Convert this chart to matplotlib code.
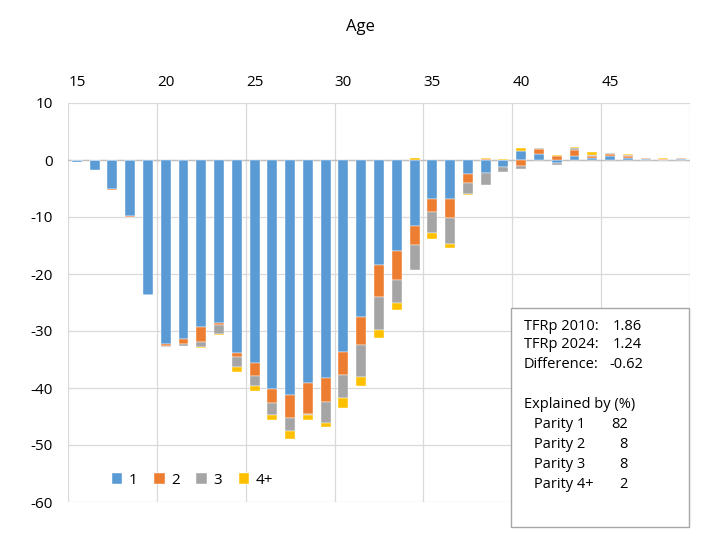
import matplotlib
matplotlib.use("Agg")
import matplotlib.pyplot as plt
from matplotlib.patches import Rectangle
import numpy as np

plt.rcParams['font.family'] = ['Open Sans', 'DejaVu Sans']

ages = list(range(15, 50))
parity1 = [-0.4, -1.8, -5.1, -9.9, -23.6, -32.3, -31.4, -29.3, -28.6, -33.9,
           -35.7, -40.1, -41.2, -39.2, -38.2, -33.6, -27.5, -18.4, -16.0, -11.5,
           -6.9, -6.9, -2.5, -2.3, -1.2, 1.6, 1.0, -0.5, 0.65, 0.4,
           0.75, 0.4, 0.15, 0.05, 0.1]
parity2 = [0.0, 0.0, -0.1, -0.1, -0.05, -0.3, -0.8, -2.6, -0.35, -0.7,
           -2.2, -2.6, -4.1, -5.3, -4.2, -4.1, -5.0, -5.7, -5.0, -3.4,
           -2.3, -3.2, -1.6, 0.15, 0.05, -1.1, 0.95, 0.75, 1.05, 0.25,
           0.3, 0.35, 0.15, 0.1, 0.2]
parity3 = [0.0, 0.0, 0.0, 0.0, -0.05, -0.2, -0.5, -0.9, -1.6, -1.8,
           -1.8, -2.0, -2.3, -0.2, -3.7, -4.0, -5.5, -5.8, -4.1, -4.4,
           -3.6, -4.6, -1.8, -2.0, -0.9, -0.4, 0.15, -0.3, 0.4, 0.2,
           0.1, 0.05, 0.05, 0.05, 0.05]
parity4 = [0.0, 0.0, 0.0, 0.0, 0.0, -0.05, 0.0, -0.2, -0.2, -0.8,
           -0.8, -0.9, -1.4, -0.9, -0.8, -1.8, -1.6, -1.3, -1.2, 0.3,
           -1.0, -0.8, -0.3, 0.25, 0.2, 0.55, 0.05, 0.1, 0.15, 0.5,
           0.1, 0.2, 0.05, 0.1, 0.05]

series = [("1", parity1, "#5B9BD5"), ("2", parity2, "#ED7D31"),
          ("3", parity3, "#A5A5A5"), ("4+", parity4, "#FFC000")]

yticks = [10, 0, -10, -20, -30, -40, -50, -60]
xlabels = [15, 20, 25, 30, 35, 40, 45]

W, H = 720, 547
fig = plt.figure(figsize=(W / 100, H / 100), dpi=100)
ax = fig.add_axes([68 / W, 1 - 502 / H, (690 - 68) / W, (502 - 103) / H])

x = np.array(ages, dtype=float)
pos_base = np.zeros(len(ages))
neg_base = np.zeros(len(ages))
for name, vals, col in series:
    v = np.array(vals)
    bottoms = np.where(v >= 0, pos_base, neg_base)
    ax.bar(x, v, bottom=bottoms, width=0.56, color=col, label=name,
           edgecolor='white', linewidth=0.3, zorder=3)
    pos_base = pos_base + np.where(v >= 0, v, 0)
    neg_base = neg_base + np.where(v < 0, v, 0)

ax.set_xlim(ages[0] - 0.5, ages[-1] + 0.5)
ax.set_ylim(-60, 10)
ax.set_yticks(yticks)
ax.set_yticklabels([str(t) for t in yticks])
ax.set_xticks(xlabels)
ax.set_xticklabels([str(t) for t in xlabels])
ax.set_xticks(np.arange(ages[0] - 0.5, ages[-1] + 1, 5), minor=True)
ax.xaxis.set_ticks_position('top')
ax.tick_params(axis='x', which='both', length=0, pad=9, labelsize=11, colors='#000000')
ax.tick_params(axis='y', length=0, pad=11, labelsize=11)
ax.grid(axis='y', which='major', color='#d9d9d9', linewidth=0.9, zorder=0)
ax.grid(axis='x', which='minor', color='#d9d9d9', linewidth=0.9, zorder=0)
ax.axhline(0, color='#bfbfbf', linewidth=1.0, zorder=2)
for s in ax.spines.values():
    s.set_visible(False)


def fx(px):
    return px / W


def fy(py):
    return 1 - py / H


fig.text(fx(360), fy(27), "Age", fontsize=12, ha='center', va='center')

leg = ax.legend(loc='center', bbox_to_anchor=(0.2, 0.055), ncol=4, frameon=False,
                fontsize=11, handlelength=0.7, handleheight=0.7, handletextpad=0.4,
                columnspacing=1.1)

# annotation box
fig.patches.append(Rectangle((fx(511), fy(527)), fx(689) - fx(511), (527 - 308) / H,
                             transform=fig.transFigure, facecolor='white',
                             edgecolor='#a6a6a6', linewidth=1.0, zorder=10))

fs = 10.5
lines = [("TFRp 2010:", 524, 326, "1.86", 613),
         ("TFRp 2024:", 524, 345, "1.24", 613),
         ("Difference:", 524, 364, "-0.62", 609)]
for lab, lx, ly, val, vx in lines:
    fig.text(fx(lx), fy(ly), lab, fontsize=fs, va='center', ha='left', zorder=11)
    fig.text(fx(vx), fy(ly), val, fontsize=fs, va='center', ha='left', zorder=11)
fig.text(fx(524), fy(404), "Explained by (%)", fontsize=fs, va='center', ha='left', zorder=11)
parities = ["Parity 1", "Parity 2", "Parity 3", "Parity 4+"]
shares = ["82", "8", "8", "2"]
for i, (p, s) in enumerate(zip(parities, shares)):
    yy = 424 + 20 * i
    fig.text(fx(534), fy(yy), p, fontsize=fs, va='center', ha='left', zorder=11)
    fig.text(fx(628), fy(yy), s, fontsize=fs, va='center', ha='right', zorder=11)

fig.savefig("out.png", dpi=100, facecolor='white')
